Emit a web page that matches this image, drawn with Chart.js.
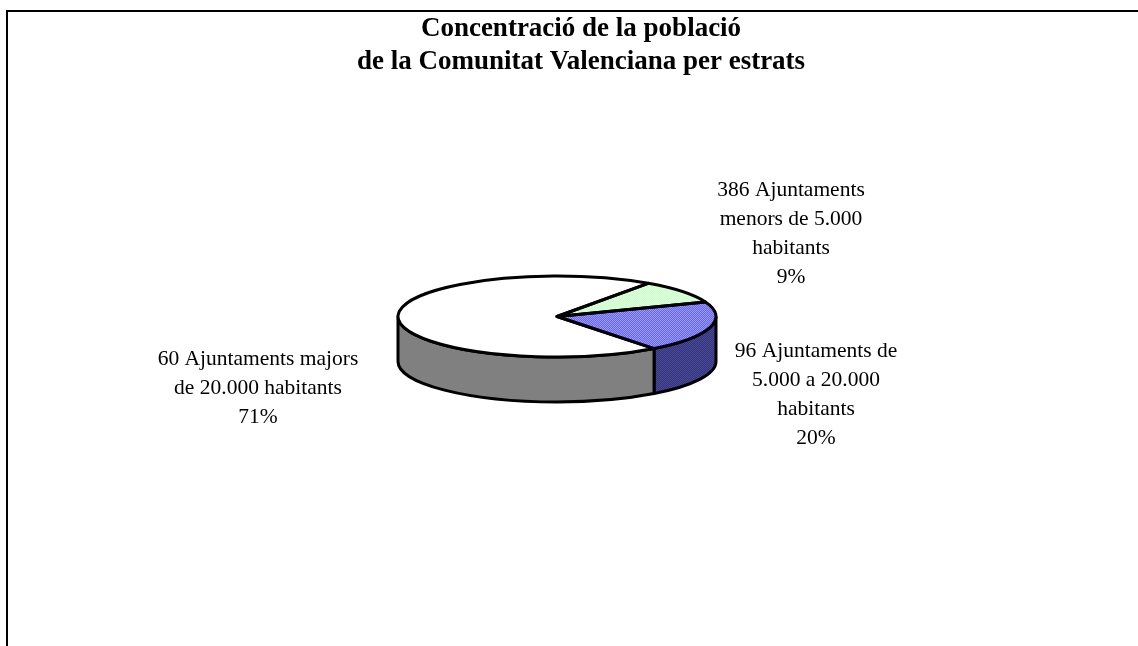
<!DOCTYPE html>
<html><head><meta charset="utf-8">
<style>html,body{margin:0;padding:0;background:#fff}canvas{display:block}</style>
<script src="https://cdn.jsdelivr.net/npm/chart.js@4"></script>
</head><body><canvas id="c" width="1138" height="646"></canvas>
<script>
const titleLines = ['Concentració de la població','de la Comunitat Valenciana per estrats'];
const categories = ['386 Ajuntaments menors de 5.000 habitants','96 Ajuntaments de 5.000 a 20.000 habitants','60 Ajuntaments majors de 20.000 habitants'];
const percentValues = [9.49, 20.49, 70.52];
const percentLabels = ['9%','20%','71%'];
const labelLines = [['386 Ajuntaments','menors de 5.000','habitants'],['96 Ajuntaments de','5.000 a 20.000','habitants'],['60 Ajuntaments majors','de 20.000 habitants']];
const labelAnchors = [{x:791,y:190},{x:816,y:351},{x:258,y:359}];
const LABEL_LH = 29, LABEL_FONT = '21.5px "Liberation Serif"';
const TILT = 40.5/159, DEPTH = 45, LINE = 3;

function checker(a,b,squash){
  const p=document.createElement('canvas');p.width=p.height=2;
  const x=p.getContext('2d');x.fillStyle=a;x.fillRect(0,0,2,2);x.fillStyle=b;x.fillRect(0,0,1,1);x.fillRect(1,1,1,1);
  const pat=document.getElementById('c').getContext('2d').createPattern(p,'repeat');
  if(squash)pat.setTransform(new DOMMatrix().scale(1,1/TILT));
  return pat;
}
const topFills=[checker('#ccffcc','#dcffdc',true),checker('#6666ff','#9a9aff',true),'#ffffff'];
const wallFills=[checker('#66807a','#75907f',false),checker('#333388','#4a4a8a',false),'#808080'];

const pie3d={
  id:'pie3d',
  beforeDraw(chart){
    const c=chart.ctx;c.save();c.fillStyle='#fff';c.fillRect(0,0,chart.width,chart.height);
    c.fillStyle='#000';c.fillRect(6,10,chart.width-6,2);c.fillRect(6,10,2,chart.height-10);c.restore();
  },
  afterLayout(chart){chart.titleBlock.left=0;chart.titleBlock.right=1162;},
  beforeDatasetDraw(chart,args){
    const c=chart.ctx;
    args.meta.data.forEach((a,i)=>{
      const twoPi=Math.PI*2;
      let s=a.startAngle,e=a.endAngle;
      for(const k of [-1,0,1]){
        const lo=Math.max(s,k*twoPi),hi=Math.min(e,k*twoPi+Math.PI);
        if(hi<=lo)continue;
        c.save();c.beginPath();
        c.ellipse(a.x,a.y,a.outerRadius,a.outerRadius*TILT,0,lo,hi);
        c.ellipse(a.x,a.y+DEPTH,a.outerRadius,a.outerRadius*TILT,0,hi,lo,true);
        c.closePath();
        c.fillStyle=wallFills[i];c.fill();
        c.strokeStyle='#000';c.lineWidth=LINE;c.lineJoin='round';c.stroke();
        c.restore();
      }
    });
    const a0=args.meta.data[0];
    c.save();c.imageSmoothingEnabled=false;
    c.translate(a0.x,a0.y);c.scale(1,TILT);c.translate(-a0.x,-a0.y);
  },
  afterDatasetDraw(chart,args){
    const c=chart.ctx;c.restore();
    args.meta.data.forEach(a=>{
      c.save();c.beginPath();
      c.moveTo(a.x,a.y);
      c.ellipse(a.x,a.y,a.outerRadius,a.outerRadius*TILT,0,a.startAngle,a.endAngle);
      c.closePath();
      c.strokeStyle='#000';c.lineWidth=LINE;c.lineJoin='round';c.stroke();c.restore();
    });
  },
  afterDraw(chart){
    const c=chart.ctx;c.save();c.fillStyle='#000';c.font=LABEL_FONT;c.textAlign='center';c.textBaseline='middle';
    labelLines.forEach((ls,i)=>{
      [...ls,percentLabels[i]].forEach((t,j)=>c.fillText(t,labelAnchors[i].x,labelAnchors[i].y+j*LABEL_LH));
    });
    c.restore();
  }
};

new Chart(document.getElementById('c'),{
  type:'pie',
  plugins:[pie3d],
  data:{labels:categories,datasets:[{data:percentValues,backgroundColor:topFills,borderWidth:0,hoverOffset:0}]},
  options:{
    responsive:false,animation:false,rotation:35,
    layout:{padding:{left:398,right:422,top:0,bottom:170.5}},
    plugins:{
      legend:{display:false},tooltip:{enabled:false},
      title:{display:true,text:titleLines,color:'#000',font:{family:'"Liberation Serif"',size:27,weight:'bold',lineHeight:1.2},padding:{top:13,bottom:79.7}}
    }
  }
});
</script></body></html>
